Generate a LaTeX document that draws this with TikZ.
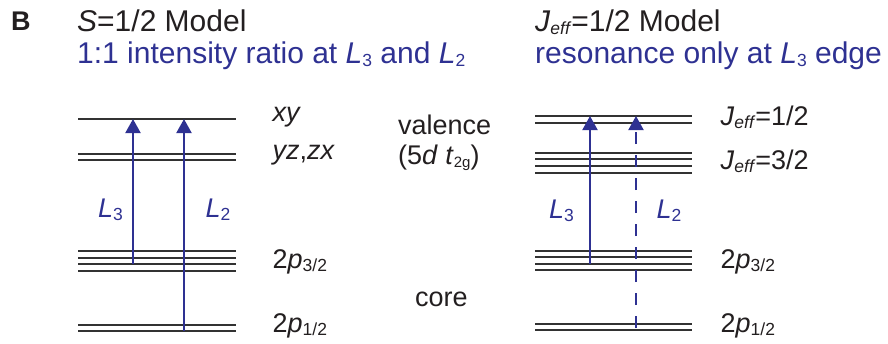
\documentclass[tikz,border=0pt]{standalone}
\usepackage{fontspec}
\setmainfont{Liberation Sans}
\usetikzlibrary{arrows.meta}
\definecolor{refblue}{RGB}{46,49,146}
\definecolor{refblack}{RGB}{35,31,32}
\definecolor{levelgray}{RGB}{50,50,50}
\newcommand\lowsub[1]{\raisebox{-0.1em}{\fontsize{17.5}{17}\selectfont #1}}
\newcommand\lowsubs[1]{\raisebox{-0.1em}{\fontsize{15}{15}\selectfont #1}}
\begin{document}
\begin{tikzpicture}[x=1pt,y=-1pt,
  level/.style={draw=levelgray,line width=1.9pt},
  excite/.style={draw=refblue,line width=2pt,-{Triangle[length=14pt,width=15pt]}},
  title/.style={anchor=base west,inner sep=0pt,text=refblack,font=\fontsize{30}{34}\selectfont},
  subtitle/.style={anchor=base west,inner sep=0pt,text=refblue,font=\fontsize{30}{34}\selectfont},
  lab/.style={anchor=west,inner sep=0pt,text=refblack,font=\fontsize{27}{30}\selectfont},
  edge/.style={anchor=west,inner sep=0pt,text=refblue,font=\fontsize{27}{30}\selectfont}]
\useasboundingbox (0,0) rectangle (888,343);
% headings
\node[anchor=base west,inner sep=0pt,text=refblack,font=\fontsize{27}{30}\selectfont\bfseries] (panel) at (11,30.5) {B};
\node[title] (t1) at (77,31) {\textit{S}=1/2 Model};
\node[subtitle] (s1) at (77,63) {1:1 intensity ratio at \textit{L}\lowsub{3} and \textit{L}\lowsub{2}};
\node[title] (t2) at (535,31) {\textit{J}\lowsub{\textit{eff}}=1/2 Model};
\node[subtitle] (s2) at (535,63) {resonance only at \textit{L}\lowsub{3} edge};
% left levels
\foreach \y in {119, 154, 160, 251, 258, 264, 271, 325, 331}
  \draw[level] (78,\y) -- (236,\y);
% right levels
\foreach \y in {116, 123, 153, 159, 166, 173, 251, 257, 264, 270, 324, 330}
  \draw[level] (535,\y) -- (692,\y);
% left arrows
\coordinate (lL3b) at (133,264);
\coordinate (lL3t) at (133,119);
\coordinate (lL2b) at (184,331);
\coordinate (lL2t) at (184,119);
\draw[excite] (lL3b) -- (lL3t);
\draw[excite] (lL2b) -- (lL2t);
% right arrows
\coordinate (rL3b) at (590,264);
\coordinate (rL3t) at (590,116);
\coordinate (rL2b) at (636,328);
\coordinate (rL2t) at (636,116);
\draw[excite] (rL3b) -- (rL3t);
\draw[excite,dash pattern=on 12.5pt off 10.5pt] (rL2b) -- (rL2t);
% arrow labels
\node[edge] (lab1) at (98,210) {\textit{L}\lowsub{3}};
\node[edge] (lab2) at (205.5,210) {\textit{L}\lowsub{2}};
\node[edge] (lab3) at (549,211) {\textit{L}\lowsub{3}};
\node[edge] (lab4) at (656.5,211) {\textit{L}\lowsub{2}};
% level labels left
\node[lab] (xy) at (272.5,117) {\textit{xy}};
\node[lab] (yz) at (272.5,155) {\textit{yz},\textit{zx}};
\node[lab] (p3l) at (272.5,262) {2\textit{p}\lowsub{3/2}};
\node[lab] (p1l) at (272.5,326) {2\textit{p}\lowsub{1/2}};
% level labels right
\node[lab] (j1) at (720.5,117) {\textit{J}\lowsub{\textit{eff}}=1/2};
\node[lab] (j3) at (720.5,161) {\textit{J}\lowsub{\textit{eff}}=3/2};
\node[lab] (p3r) at (720.5,262) {2\textit{p}\lowsub{3/2}};
\node[lab] (p1r) at (720.5,326) {2\textit{p}\lowsub{1/2}};
% middle labels
\node[lab] (val) at (398,125) {valence};
\node[lab] (t2g) at (398,158) {(5\textit{d} \textit{t}\lowsubs{2g})};
\node[lab] (core) at (415,299) {core};
\end{tikzpicture}
\end{document}
